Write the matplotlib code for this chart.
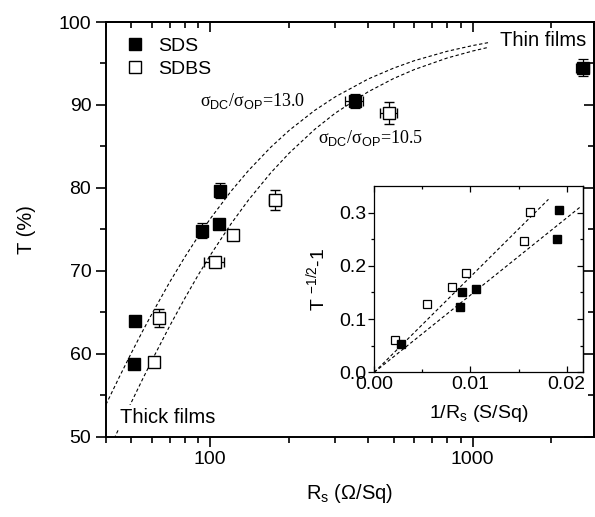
import matplotlib
matplotlib.use("Agg")
import matplotlib.pyplot as plt
from matplotlib.lines import Line2D
from matplotlib.ticker import LogLocator, NullFormatter, FixedLocator, MultipleLocator, FixedFormatter

plt.rcParams['font.family'] = ['Liberation Sans', 'DejaVu Sans']
plt.rcParams['mathtext.fontset'] = 'custom'
plt.rcParams['mathtext.rm'] = 'Liberation Sans'
plt.rcParams['mathtext.sf'] = 'Liberation Sans'
plt.rcParams['mathtext.it'] = 'Liberation Sans:italic'
plt.rcParams['mathtext.bf'] = 'Liberation Sans:bold'

# ---- main panel data ----
rs_sds = [51.8, 51.2, 93, 109, 108, 355, 2640]
t_sds = [63.95, 58.75, 74.85, 79.65, 75.65, 90.45, 94.5]
t_err_sds = [0.4, 0.5, 0.9, 0.9, 0.3, 0.85, 1.0]
rs_err_sds = [2, 2, 4, 4, 3, 28, 150]

rs_sdbs = [63.5, 60.8, 104, 122.5, 177, 480]
t_sdbs = [64.3, 58.95, 71.1, 74.3, 78.55, 89.05]
t_err_sdbs = [1.05, 0.6, 0.4, 0.3, 1.25, 1.3]
rs_err_sdbs = [2.5, 2.5, 9, 3, 9, 35]

# dashed model curves
curve13_rs = [40, 45, 50, 55, 60, 70, 80, 90, 100, 120, 140, 170, 200, 250, 300, 400, 500, 600, 800, 1000, 1150]
curve13_t = [53.87, 57.20, 60.09, 62.63, 64.86, 68.63, 71.67, 74.17, 76.28, 79.60, 82.11, 84.90, 86.94, 89.34,
             90.99, 93.13, 94.44, 95.34, 96.47, 97.16, 97.52]
curve105_rs = [43, 45, 50, 55, 60, 70, 80, 90, 100, 120, 140, 170, 200, 250, 300, 400, 500, 600, 800, 1000, 1150]
curve105_t = [49.77, 51.10, 54.14, 56.84, 59.24, 63.34, 66.70, 69.51, 71.88, 75.67, 78.56, 81.81, 84.20, 87.05,
              89.03, 91.59, 93.19, 94.27, 95.66, 96.50, 96.95]

# ---- inset data ----
inv_rs_sds = [0.0028, 0.00895, 0.0091, 0.0106, 0.0190, 0.0192]
y_sds = [0.0525, 0.122, 0.150, 0.156, 0.251, 0.3045]
inv_rs_sdbs = [0.00215, 0.00553, 0.00808, 0.0095, 0.0156, 0.0162]
y_sdbs = [0.060, 0.129, 0.160, 0.186, 0.247, 0.301]
fit_sdbs_x = [0.0, 0.0181]
fit_sdbs_y = [0.0, 0.325]
fit_sds_x = [0.0, 0.0215]
fit_sds_y = [0.0, 0.312]

x_major = [100, 1000]
x_major_labels = ['100', '1000']
y_major = [50, 60, 70, 80, 90, 100]

DASH = (0, (3.0, 2.2))

fig = plt.figure(figsize=(5.95, 5.17), dpi=100)
ax = fig.add_axes([0.178, 0.1553, 0.82, 0.8021])

ax.set_xscale('log')
ax.set_xlim(40, 2900)
ax.set_ylim(50, 100)

ax.plot(curve13_rs, curve13_t, ls=DASH, color='black', lw=0.8, zorder=1)
ax.plot(curve105_rs, curve105_t, ls=DASH, color='black', lw=0.8, zorder=1)

ax.errorbar(rs_sds, t_sds, yerr=t_err_sds, xerr=rs_err_sds, fmt='s', ms=9, mfc='black', mec='black',
            ecolor='black', elinewidth=0.9, capsize=3.5, capthick=0.9, zorder=3)
ax.errorbar(rs_sdbs, t_sdbs, yerr=t_err_sdbs, xerr=rs_err_sdbs, fmt='s', ms=9, mfc='white', mec='black',
            mew=1.0, ecolor='black', elinewidth=0.9, capsize=3.5, capthick=0.9, zorder=3)

ax.xaxis.set_major_locator(FixedLocator(x_major))
ax.xaxis.set_major_formatter(FixedFormatter(x_major_labels))
ax.xaxis.set_minor_locator(LogLocator(base=10, subs=[2, 3, 4, 5, 6, 7, 8, 9]))
ax.xaxis.set_minor_formatter(NullFormatter())
ax.yaxis.set_major_locator(FixedLocator(y_major))
ax.yaxis.set_minor_locator(MultipleLocator(5))

ax.tick_params(which='both', direction='out', labelsize=14, width=1.2, top=False, right=False)
ax.tick_params(which='major', length=7)
ax.tick_params(which='minor', length=4)
for s in ax.spines.values():
    s.set_linewidth(1.4)

secx = ax.secondary_xaxis('top')
secx.xaxis.set_major_locator(FixedLocator(x_major))
secx.xaxis.set_minor_locator(LogLocator(base=10, subs=[2, 3, 4, 5, 6, 7, 8, 9]))
secx.tick_params(which='both', direction='in', labeltop=False, width=1.2)
secx.tick_params(which='major', length=7)
secx.tick_params(which='minor', length=4)
secx.xaxis.set_major_formatter(NullFormatter())
secx.xaxis.set_minor_formatter(NullFormatter())
secx.spines['top'].set_linewidth(1.4)

secy = ax.secondary_yaxis('right')
secy.yaxis.set_major_locator(FixedLocator(y_major))
secy.yaxis.set_minor_locator(MultipleLocator(5))
secy.tick_params(which='both', direction='in', labelright=False, width=1.2)
secy.tick_params(which='major', length=7)
secy.tick_params(which='minor', length=4)
secy.spines['right'].set_linewidth(1.4)

ax.set_xlabel(r'R$_\mathregular{s}$ ($\Omega$/Sq)', fontsize=14.5, labelpad=10)
ax.set_ylabel('T (%)', fontsize=14.5, labelpad=16)

handles = [Line2D([], [], marker='s', ls='none', ms=9, mfc='black', mec='black'),
           Line2D([], [], marker='s', ls='none', ms=9, mfc='white', mec='black')]
ax.legend(handles, ['SDS', 'SDBS'], loc='upper left', frameon=False, fontsize=14,
          bbox_to_anchor=(0.0, 1.0), handletextpad=0.5, labelspacing=0.25, borderaxespad=0.4,
          handlelength=1.4)

ax.text(0.807, 0.955, 'Thin films', transform=ax.transAxes, fontsize=14.5, ha='left', va='center',
        bbox=dict(facecolor='white', edgecolor='none', pad=2), zorder=5)
ax.text(0.028, 0.047, 'Thick films', transform=ax.transAxes, fontsize=14.5, ha='left', va='center',
        bbox=dict(facecolor='white', edgecolor='none', pad=2), zorder=5)
ax.text(0.192, 0.81, 'σ$_\\mathsf{DC}$/σ$_\\mathsf{OP}$=13.0', transform=ax.transAxes,
        fontsize=13, family='Liberation Serif', ha='left', va='center', zorder=5)
ax.text(0.435, 0.72, 'σ$_\\mathsf{DC}$/σ$_\\mathsf{OP}$=10.5', transform=ax.transAxes,
        fontsize=13, family='Liberation Serif', ha='left', va='center', zorder=5)

# ---- inset ----
ins = fig.add_axes([0.629, 0.2799, 0.351, 0.3603])
ins.set_facecolor('white')
ins.plot(fit_sdbs_x, fit_sdbs_y, ls=DASH, color='black', lw=0.8)
ins.plot(fit_sds_x, fit_sds_y, ls=DASH, color='black', lw=0.8)
ins.plot(inv_rs_sdbs, y_sdbs, 's', ms=5.5, mfc='white', mec='black', mew=0.9)
ins.plot(inv_rs_sds, y_sds, 's', ms=5.5, mfc='black', mec='black')
ins.set_xlim(0, 0.0217)
ins.set_ylim(0, 0.35)
ins.xaxis.set_major_locator(FixedLocator([0.0, 0.01, 0.02]))
ins.xaxis.set_major_formatter(FixedFormatter(['0.00', '0.01', '0.02']))
ins.xaxis.set_minor_locator(FixedLocator([0.005, 0.015]))
ins.yaxis.set_major_locator(FixedLocator([0.0, 0.1, 0.2, 0.3]))
ins.yaxis.set_major_formatter(FixedFormatter(['0.0', '0.1', '0.2', '0.3']))
ins.yaxis.set_minor_locator(FixedLocator([0.05, 0.15, 0.25]))
ins.tick_params(axis='x', which='both', direction='in', top=True, labelsize=14, pad=3)
ins.tick_params(axis='y', which='both', direction='out', right=False, labelsize=14, pad=1.5)
ins.tick_params(which='major', length=4, width=0.9)
ins.tick_params(which='minor', length=2.5, width=0.9)
isecy = ins.secondary_yaxis('right')
isecy.yaxis.set_major_locator(FixedLocator([0.0, 0.1, 0.2, 0.3]))
isecy.yaxis.set_minor_locator(FixedLocator([0.05, 0.15, 0.25]))
isecy.tick_params(which='both', direction='in', labelright=False, width=0.9)
isecy.tick_params(which='major', length=4)
isecy.tick_params(which='minor', length=2.5)
for s in ins.spines.values():
    s.set_linewidth(0.9)
isecy.spines['right'].set_linewidth(0.9)
ins.set_xlabel(r'1/R$_\mathregular{s}$ (S/Sq)', fontsize=14, labelpad=7)
ins.set_ylabel(r'T $^\mathregular{-1/2}$-1', fontsize=14, labelpad=8)

fig.savefig('out.png', dpi=100)
